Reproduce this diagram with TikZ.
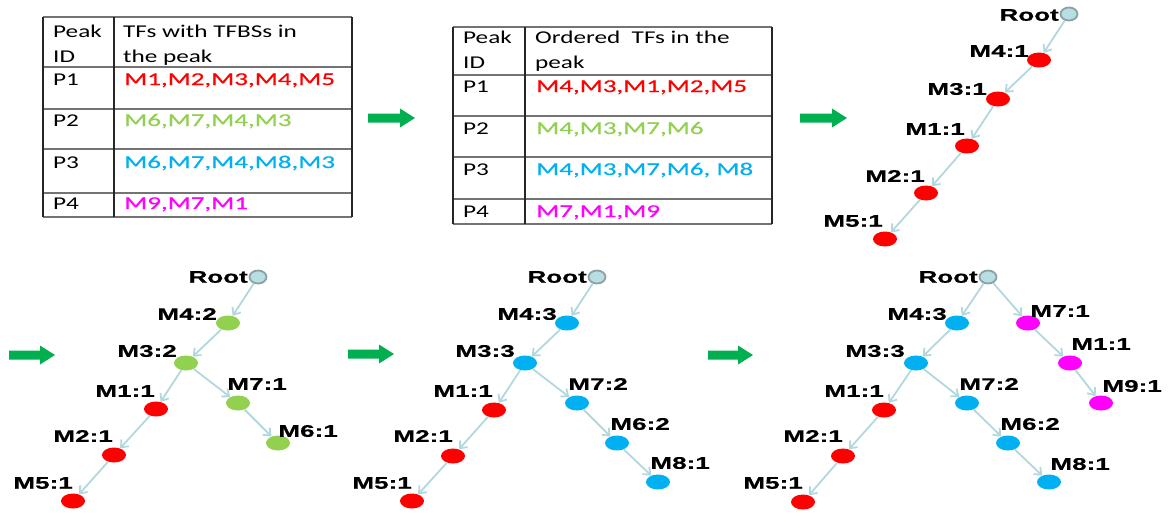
\documentclass[tikz,border=0pt]{standalone}
\usepackage{fontspec}
\usetikzlibrary{shapes.geometric,arrows.meta}
\newfontfamily\tabfont[FakeStretch=1.4]{Carlito}
\newfontfamily\colfont[FakeStretch=1.5,FakeBold=0.6]{Carlito}
\newfontfamily\lblfont[FakeStretch=1.55,FakeBold=0.6]{Liberation Sans Bold}
\definecolor{cred}{RGB}{255,0,0}
\definecolor{cgreen}{RGB}{146,208,80}
\definecolor{cblue}{RGB}{0,176,240}
\definecolor{cmag}{RGB}{255,0,255}
\definecolor{arrowgreen}{RGB}{0,176,80}
\definecolor{edgec}{RGB}{178,216,222}
\definecolor{rootfill}{RGB}{183,222,227}
\definecolor{rootdraw}{RGB}{140,160,165}
\newcommand\greenarrow[3]{%
  \fill[arrowgreen] (#1,#3-4.5) -- (#2-15,#3-4.5) -- (#2-15,#3-9.5) -- (#2,#3)
    -- (#2-15,#3+9.5) -- (#2-15,#3+4.5) -- (#1,#3+4.5) -- cycle;}
\tikzset{
  tn/.style={ellipse, minimum width=24, minimum height=15, inner sep=0, fill=#1},
  rootn/.style={ellipse, minimum width=17, minimum height=13, inner sep=0, fill=rootfill, draw=rootdraw, line width=1.8},
  lbl/.style={font=\lblfont\fontsize{16.8}{18}\selectfont, inner sep=0, anchor=east},
  edge/.style={draw=edgec, line width=1.8, -{Straight Barb[length=6pt,width=10pt]}},
  ttext/.style={font=\tabfont\fontsize{18}{20}\selectfont, inner sep=0, anchor=base west},
  ctext/.style={font=\colfont\fontsize{18}{20}\selectfont, inner sep=0, anchor=base west, text=#1},
  vline/.style={draw=black!85, line width=1.5},
  hline/.style={draw=black!55, line width=1.5},
}
\begin{document}
\begin{tikzpicture}[x=1pt,y=-1pt]
\useasboundingbox (0,0) rectangle (1173,512);
% ---------- Table 1 ----------
\foreach \yy in {17,67,109,149,193,217} \draw[hline] (43,\yy) -- (352,\yy);
\foreach \xx in {43,114,352} \draw[vline] (\xx,17) -- (\xx,217);
\node[ttext] (a1) at (53,37) {Peak};
\node[ttext] (a2) at (53,62) {ID};
\node[ttext] (a3) at (123,37) {TFs with TFBSs in};
\node[ttext] (a4) at (123,62) {the peak};
\node[ttext] (a5) at (53,85) {P1};
\node[ttext] (a6) at (53,126) {P2};
\node[ttext] (a7) at (53,168) {P3};
\node[ttext] (a8) at (53,209) {P4};
\node[ctext=cred] (a9) at (124,85) {M1,M2,M3,M4,M5};
\node[ctext=cgreen] (a10) at (124,126) {M6,M7,M4,M3};
\node[ctext=cblue] (a11) at (124,168) {M6,M7,M4,M8,M3};
\node[ctext=cmag] (a12) at (124,209) {M9,M7,M1};
% ---------- Table 2 ----------
\foreach \yy in {27,75,116,157,199,224} \draw[hline] (453,\yy) -- (772,\yy);
\foreach \xx in {453,525,772} \draw[vline] (\xx,27) -- (\xx,224);
\node[ttext] (b1) at (463,43) {Peak};
\node[ttext] (b2) at (463,68) {ID};
\node[ttext] (b3) at (535,43) {Ordered\ \ TFs in the};
\node[ttext] (b4) at (535,68) {peak};
\node[ttext] (b5) at (463,92) {P1};
\node[ttext] (b6) at (463,134) {P2};
\node[ttext] (b7) at (463,175) {P3};
\node[ttext] (b8) at (463,217) {P4};
\node[ctext=cred] (b9) at (536,92) {M4,M3,M1,M2,M5};
\node[ctext=cgreen] (b10) at (536,134) {M4,M3,M7,M6};
\node[ctext=cblue] (b11) at (536,175) {M4,M3,M7,M6, M8};
\node[ctext=cmag] (b12) at (536,217) {M7,M1,M9};
% ---------- green arrows ----------
\greenarrow{368}{415}{118}
\greenarrow{800}{847}{118}
\greenarrow{9}{55}{355}
\greenarrow{348}{394}{354}
\greenarrow{708}{753}{355}
% ---------- Tree 1 ----------
\node[rootn] (t1r) at (1069,14) {};
\node[tn=cred] (t1a) at (1039,60) {};
\node[tn=cred] (t1b) at (998,99) {};
\node[tn=cred] (t1c) at (967,146) {};
\node[tn=cred] (t1d) at (926,193) {};
\node[tn=cred] (t1e) at (885,239) {};
\node[lbl] (t1rl) at (1059,15) {Root};
\node[lbl] (t1al) at (1029,51) {M4:1};
\node[lbl] (t1bl) at (987,89) {M3:1};
\node[lbl] (t1cl) at (965,129) {M1:1};
\node[lbl] (t1dl) at (925,176) {M2:1};
\node[lbl] (t1el) at (883,221) {M5:1};
\draw[edge] (t1r) -- (t1a);
\draw[edge] (t1a) -- (t1b);
\draw[edge] (t1b) -- (t1c);
\draw[edge] (t1c) -- (t1d);
\draw[edge] (t1d) -- (t1e);
% ---------- Tree 2 ----------
\node[rootn] (t2r) at (258,277) {};
\node[tn=cgreen] (t2a) at (228,323) {};
\node[tn=cgreen] (t2b) at (186,363) {};
\node[tn=cred] (t2c) at (156,409) {};
\node[tn=cgreen] (t2f) at (238,403) {};
\node[tn=cred] (t2d) at (114,455) {};
\node[tn=cgreen] (t2g) at (278,443) {};
\node[tn=cred] (t2e) at (73,501) {};
\node[lbl] (t2rl) at (248,277) {Root};
\node[lbl] (t2al) at (217,314) {M4:2};
\node[lbl] (t2bl) at (177,351) {M3:2};
\node[lbl] (t2cl) at (155,391) {M1:1};
\node[lbl] (t2fl) at (287,384) {M7:1};
\node[lbl] (t2dl) at (113,436) {M2:1};
\node[lbl] (t2gl) at (338,431) {M6:1};
\node[lbl] (t2el) at (73,483) {M5:1};
\draw[edge] (t2r) -- (t2a);
\draw[edge] (t2a) -- (t2b);
\draw[edge] (t2b) -- (t2c);
\draw[edge] (t2b) -- (t2f);
\draw[edge] (t2c) -- (t2d);
\draw[edge] (t2d) -- (t2e);
\draw[edge] (t2f) -- (t2g);
% ---------- Tree 3 ----------
\node[rootn] (t3r) at (597,277) {};
\node[tn=cblue] (t3a) at (567,323) {};
\node[tn=cblue] (t3b) at (525,363) {};
\node[tn=cred] (t3c) at (494,410) {};
\node[tn=cblue] (t3f) at (577,403) {};
\node[tn=cred] (t3d) at (453,456) {};
\node[tn=cblue] (t3g) at (617,443) {};
\node[tn=cred] (t3e) at (412,501) {};
\node[tn=cblue] (t3h) at (658,482) {};
\node[lbl] (t3rl) at (587,277) {Root};
\node[lbl] (t3al) at (557,314) {M4:3};
\node[lbl] (t3bl) at (515,351) {M3:3};
\node[lbl] (t3cl) at (493,391) {M1:1};
\node[lbl] (t3fl) at (628,384) {M7:2};
\node[lbl] (t3dl) at (453,436) {M2:1};
\node[lbl] (t3gl) at (670,424) {M6:2};
\node[lbl] (t3el) at (412,483) {M5:1};
\node[lbl] (t3hl) at (710,463) {M8:1};
\draw[edge] (t3r) -- (t3a);
\draw[edge] (t3a) -- (t3b);
\draw[edge] (t3b) -- (t3c);
\draw[edge] (t3b) -- (t3f);
\draw[edge] (t3c) -- (t3d);
\draw[edge] (t3d) -- (t3e);
\draw[edge] (t3f) -- (t3g);
\draw[edge] (t3g) -- (t3h);
% ---------- Tree 4 ----------
\node[rootn] (t4r) at (988,277) {};
\node[tn=cblue] (t4a) at (957,323) {};
\node[tn=cmag] (t4p) at (1028,323) {};
\node[tn=cblue] (t4b) at (916,363) {};
\node[tn=cmag] (t4q) at (1070,363) {};
\node[tn=cred] (t4c) at (884,410) {};
\node[tn=cblue] (t4f) at (967,403) {};
\node[tn=cmag] (t4s) at (1101,403) {};
\node[tn=cred] (t4d) at (843,456) {};
\node[tn=cblue] (t4g) at (1008,443) {};
\node[tn=cred] (t4e) at (803,502) {};
\node[tn=cblue] (t4h) at (1049,482) {};
\node[lbl] (t4rl) at (978,277) {Root};
\node[lbl] (t4al) at (947,314) {M4:3};
\node[lbl] (t4pl) at (1090,311) {M7:1};
\node[lbl] (t4bl) at (905,351) {M3:3};
\node[lbl] (t4ql) at (1131,344) {M1:1};
\node[lbl] (t4cl) at (884,391) {M1:1};
\node[lbl] (t4fl) at (1019,384) {M7:2};
\node[lbl] (t4sl) at (1162,386) {M9:1};
\node[lbl] (t4dl) at (843,436) {M2:1};
\node[lbl] (t4gl) at (1060,424) {M6:2};
\node[lbl] (t4el) at (803,483) {M5:1};
\node[lbl] (t4hl) at (1110,464) {M8:1};
\draw[edge] (t4r) -- (t4a);
\draw[edge] (t4r) -- (t4p);
\draw[edge] (t4p) -- (t4q);
\draw[edge] (t4q) -- (t4s);
\draw[edge] (t4a) -- (t4b);
\draw[edge] (t4b) -- (t4c);
\draw[edge] (t4b) -- (t4f);
\draw[edge] (t4c) -- (t4d);
\draw[edge] (t4d) -- (t4e);
\draw[edge] (t4f) -- (t4g);
\draw[edge] (t4g) -- (t4h);
\end{tikzpicture}
\end{document}
